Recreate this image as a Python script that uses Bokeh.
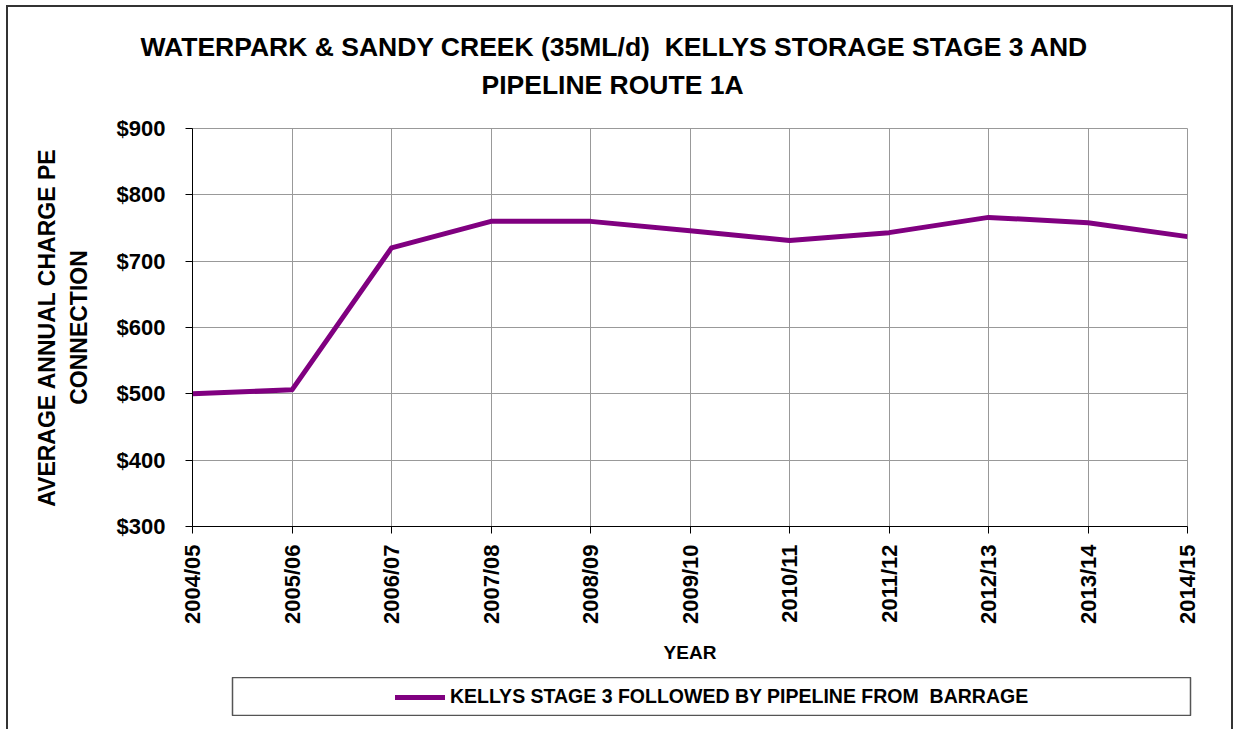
import math
from bokeh.plotting import figure
from bokeh.layouts import column
from bokeh.models import (Range1d, FixedTicker, NumeralTickFormatter, Title,
                          Legend, LegendItem)
from bokeh.embed import file_html
from bokeh.resources import INLINE

# ---- data ----
years = ["2004/05", "2005/06", "2006/07", "2007/08", "2008/09", "2009/10",
         "2010/11", "2011/12", "2012/13", "2013/14", "2014/15"]
charges = [500, 506, 720, 760, 760, 746, 731, 743, 766, 758, 737]
y_ticks = [300, 400, 500, 600, 700, 800, 900]
series_name = "KELLYS STAGE 3 FOLLOWED BY PIPELINE FROM\u00a0 BARRAGE"
title_line1 = "WATERPARK & SANDY CREEK (35ML/d)\u00a0 KELLYS STORAGE STAGE 3 AND"
title_line2 = "PIPELINE ROUTE 1A"
y_label = "AVERAGE ANNUAL CHARGE PE\nCONNECTION"
x_label = "YEAR"

FONT = "Liberation Sans"
PURPLE = "#800080"
GRID = "#999999"
W, H = 1200, 672
LEFT, TOP, FW, FH = 192, 128, 995, 398

p = figure(width=W, height=H, output_backend="svg", toolbar_location=None,
           x_range=Range1d(0, len(years) - 1), y_range=Range1d(y_ticks[0], y_ticks[-1]),
           min_border_left=LEFT, min_border_right=W - LEFT - FW,
           min_border_top=TOP, min_border_bottom=H - TOP - FH)
p.background_fill_color = "white"
p.border_fill_alpha = 0
p.outline_line_color = GRID

xs = list(range(len(years)))
p.line(xs, charges, line_color=PURPLE, line_width=5, line_join="round")

# axes
p.xaxis.ticker = FixedTicker(ticks=xs)
p.xaxis.major_label_overrides = {i: y for i, y in enumerate(years)}
p.xaxis.major_label_orientation = math.pi / 2
p.yaxis.ticker = FixedTicker(ticks=y_ticks)
p.yaxis.formatter = NumeralTickFormatter(format="$0")
for ax in (p.xaxis[0], p.yaxis[0]):
    ax.axis_line_color = "black"
    ax.major_tick_line_color = "black"
    ax.major_tick_out = 7
    ax.major_tick_in = 0
    ax.minor_tick_line_color = None
    ax.major_label_text_font = FONT
    ax.major_label_text_font_style = "bold"
    ax.major_label_text_color = "black"
    ax.axis_label_text_font = FONT
    ax.axis_label_text_font_style = "bold"
    ax.axis_label_text_color = "black"
p.yaxis.major_label_text_font_size = "22px"
p.yaxis.major_label_standoff = 20
p.yaxis.axis_label = y_label
p.yaxis.axis_label_text_font_size = "23px"
p.yaxis.axis_label_standoff = 22
p.xaxis.major_label_text_font_size = "22px"
p.xaxis.major_label_standoff = 11
p.xaxis.axis_label = x_label
p.xaxis.axis_label_text_font_size = "19px"
p.xaxis.axis_label_standoff = 15

p.xgrid.grid_line_color = GRID
p.ygrid.grid_line_color = GRID

# title: spacer, then second line, then first line (stacked upward)
p.add_layout(Title(text=" ", standoff=22, text_font_size="1px"), "above")
p.add_layout(Title(text=title_line2, align="left", offset=289, standoff=8,
                   text_font=FONT, text_font_style="bold", text_font_size="26.5px",
                   text_color="black"), "above")
p.add_layout(Title(text=title_line1, align="left", offset=-52, standoff=4,
                   text_font=FONT, text_font_style="bold", text_font_size="26.5px",
                   text_color="black"), "above")

# legend figure: its frame outline is the legend box
lg = figure(width=1163, height=39, output_backend="svg", toolbar_location=None,
            x_range=Range1d(0, 1), y_range=Range1d(0, 1),
            min_border=0, margin=(5, 0, 0, 40))
lg.axis.visible = False
lg.grid.visible = False
lg.background_fill_color = "white"
lg.border_fill_alpha = 0
lg.outline_line_color = "#555555"
lg.outline_line_width = 1.5
lr = lg.line([-5, -4], [-5, -4], line_color=PURPLE, line_width=5, line_cap="round")
legend = Legend(items=[LegendItem(label=series_name, renderers=[lr])],
                location=(158, 3), border_line_alpha=0, background_fill_alpha=0,
                glyph_width=50, label_standoff=5, padding=5, margin=0,
                label_text_font=FONT, label_text_font_style="bold",
                label_text_font_size="19.5px", label_text_color="black")
lg.add_layout(legend)

layout = column(p, lg, spacing=0, width=1236, height=729)
# outer chart border on left, top and right (bottom runs off the page)
layout.styles = {"box-shadow": ("inset 6px 0 0 0 white, inset -3px 0 0 0 white, "
                                "inset 0 5px 0 0 white, "
                                "inset 8px 0 0 0 #333333, inset -5px 0 0 0 #333333, "
                                "inset 0 7px 0 0 #333333")}

open("out.html", "w").write(file_html(layout, INLINE))
